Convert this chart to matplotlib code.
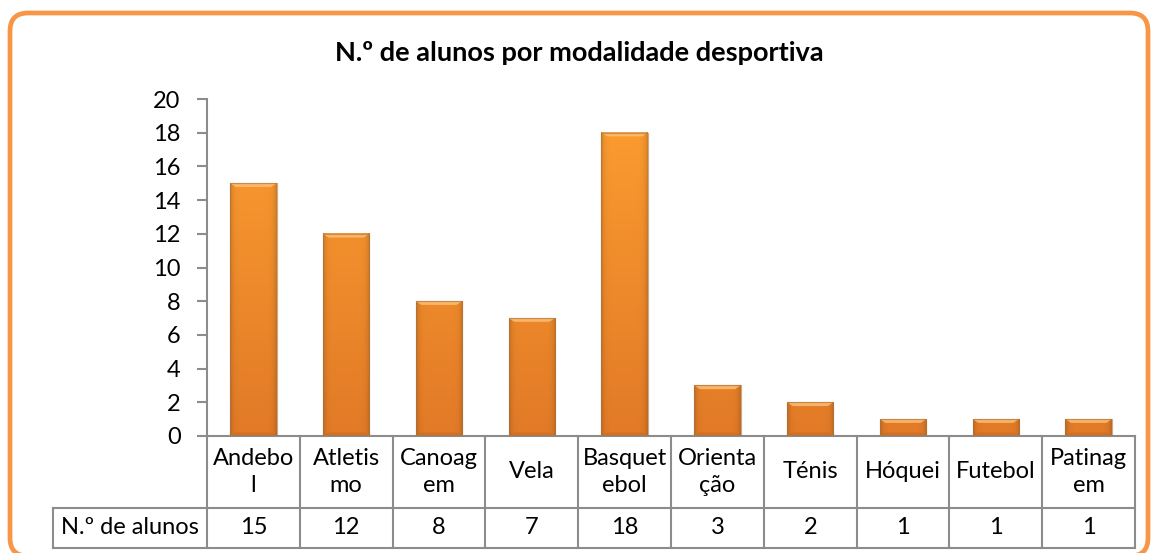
import numpy as np
import matplotlib
matplotlib.use("Agg")
import matplotlib.pyplot as plt
import matplotlib.transforms as mtransforms
from matplotlib.patches import FancyBboxPatch, Polygon
from matplotlib.colors import to_rgb

plt.rcParams['font.family'] = ['Lato', 'DejaVu Sans']

# datos
modalidades = ["Andebol", "Atletismo", "Canoagem", "Vela", "Basquetebol",
               "Orientação", "Ténis", "Hóquei", "Futebol", "Patinagem"]
etiquetas = ["Andebo\nl", "Atletis\nmo", "Canoag\nem", "Vela", "Basquet\nebol",
             "Orienta\nção", "Ténis", "Hóquei", "Futebol", "Patinag\nem"]
alunos = [15, 12, 8, 7, 18, 3, 2, 1, 1, 1]
serie = "N.º de alunos"
titulo = "N.º de alunos por modalidade desportiva"

W, H = 1153, 553
fig = plt.figure(figsize=(W / 100, H / 100), dpi=100)
ax = fig.add_axes([207 / W, (H - 436) / H, 928 / W, 337 / H])

n = len(alunos)
x = np.arange(n)
ancho = 0.5
cinza = "#8c8c8c"

claro = np.array(to_rgb("#fd9e30"))
escuro = np.array(to_rgb("#e27a27"))
for xi, v in zip(x, alunos):
    ys = np.linspace(v, 0, max(int(v * 12), 4))
    col = escuro + (claro - escuro) * (ys / 20)[:, None]
    xs = np.linspace(-1, 1, 40)
    sombra = 1 - 0.15 * np.abs(xs) ** 8
    img = np.clip(col[:, None, :] * sombra[None, :, None], 0, 1)
    ax.imshow(img, extent=(xi - ancho / 2, xi + ancho / 2, 0, v), aspect="auto",
              origin="upper", zorder=2, interpolation="bilinear")
    # bisel superior e inferior
    b = 0.22
    ax.add_patch(Polygon([(xi - ancho / 2, v), (xi + ancho / 2, v),
                          (xi + ancho / 2 - 0.06, v - b), (xi - ancho / 2 + 0.06, v - b)],
                         closed=True, facecolor="#fec27a", edgecolor="none", alpha=0.8, zorder=3))
    ax.add_patch(Polygon([(xi - ancho / 2, 0), (xi + ancho / 2, 0),
                          (xi + ancho / 2 - 0.06, b), (xi - ancho / 2 + 0.06, b)],
                         closed=True, facecolor="#c86a20", edgecolor="none", alpha=0.5, zorder=3))
    ax.add_patch(plt.Rectangle((xi - ancho / 2, 0), ancho, v, facecolor="none",
                               edgecolor="#a8733f", lw=0.9, alpha=0.6, zorder=4))

ax.set_xlim(-0.5, n - 0.5)
ax.set_ylim(0, 20)
ax.set_yticks(range(0, 21, 2))
ax.set_xticks([])
for s in ["top", "right", "bottom"]:
    ax.spines[s].set_visible(False)
ax.spines["left"].set_color(cinza)
ax.spines["left"].set_linewidth(1.5)
ax.tick_params(axis="y", length=7, width=1.5, color=cinza, labelsize=17, pad=12)

# tabela de dados
tr = mtransforms.blended_transform_factory(ax.transData, ax.transAxes)
y1 = -72 / 337
y2 = -112 / 337
xesq = -0.5 - 154 / 92.8
kw = dict(color=cinza, lw=1.5, transform=tr, clip_on=False)
ax.plot([-0.5, n - 0.5], [0, 0], **kw)
ax.plot([xesq, n - 0.5], [y1, y1], **kw)
ax.plot([xesq, n - 0.5], [y2, y2], **kw)
ax.plot([xesq, xesq], [y1, y2], **kw)
for k in range(n + 1):
    ax.plot([k - 0.5, k - 0.5], [0, y2], **kw)
for xi, et, v in zip(x, etiquetas, alunos):
    ax.text(xi, y1 / 2, et, transform=tr, ha="center", va="center",
            fontsize=17, linespacing=1.3)
    ax.text(xi, (y1 + y2) / 2, str(v), transform=tr, ha="center", va="center", fontsize=17)
ax.text((xesq - 0.5) / 2, (y1 + y2) / 2, serie, transform=tr, ha="center", va="center",
        fontsize=17)

fig.text(579 / W, (H - 53) / H, titulo, ha="center", va="center",
         fontsize=19.5, fontweight="bold")

# moldura arredondada
moldura = FancyBboxPatch((0.10, -0.03), 11.38, 5.43,
                         boxstyle="round,pad=0,rounding_size=0.18",
                         transform=fig.dpi_scale_trans, facecolor="none",
                         edgecolor="#f79646", lw=3.4, zorder=10)
fig.patches.append(moldura)

fig.savefig("out.png", dpi=100)
